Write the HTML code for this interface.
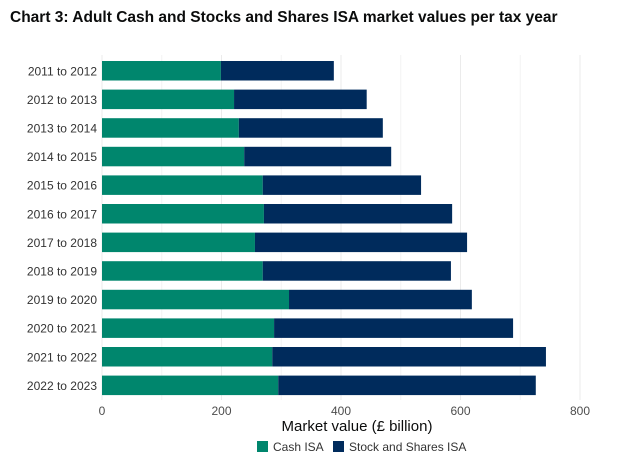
<!DOCTYPE html>
<html><head><meta charset="utf-8">
<style>
body{margin:0;background:#fff;font-family:"Liberation Sans",sans-serif;}
#wrap{position:relative;width:634px;height:471px;overflow:hidden;}
#title{position:absolute;left:10px;top:9px;font-size:15.5px;font-weight:bold;color:#0b0c0c;white-space:nowrap;}
</style></head>
<body>
<div id="wrap">
<div id="title">Chart 3: Adult Cash and Stocks and Shares ISA market values per tax year</div>
<svg id="svg" width="634" height="471" style="position:absolute;left:0;top:0"></svg>
</div>
<script>
const categories=["2011 to 2012","2012 to 2013","2013 to 2014","2014 to 2015","2015 to 2016","2016 to 2017","2017 to 2018","2018 to 2019","2019 to 2020","2020 to 2021","2021 to 2022","2022 to 2023"];
const cashISA=[199,221,229,238,269,271,256,269,313,288,285,295];
const stocksISA=[189,222,241,246,265,315,355,315,306,400,458,431];
const xTicks=[0,200,400,600,800];
const NS="http://www.w3.org/2000/svg";
const svg=document.getElementById('svg');
const x0=102,xScale=(580-102)/800;
const x=v=>x0+v*xScale;
const rowTop=61,rowStep=28.6,barH=19.5;
function mk(t,a){const e=document.createElementNS(NS,t);for(const k in a)e.setAttribute(k,a[k]);svg.appendChild(e);return e;}
// grid
for(let v=0;v<=850;v+=100){
  const g=mk('line',{x1:x(v),x2:x(v),y1:55,y2:400,stroke:v%200===0?'#ebebeb':'#f4f4f4','stroke-width':1});
  
  
}
xTicks.forEach(v=>{
  const t=mk('text',{x:x(v),y:415,'text-anchor':'middle','font-size':12,fill:'#4d4d4d'});
  
  
  t.textContent=v;
});
categories.forEach((c,i)=>{
  const y=rowTop+i*rowStep;
  const l=mk('text',{x:97,y:y+barH/2+4.5,'text-anchor':'end','font-size':12,fill:'#333'});
  
  
  l.textContent=c;
  const r1=mk('rect',{x:x(0),y:y,width:x(cashISA[i])-x(0),height:barH,fill:'#00866d'});
  
  
  const r2=mk('rect',{x:x(cashISA[i]),y:y,width:x(cashISA[i]+stocksISA[i])-x(cashISA[i]),height:barH,fill:'#002b5c'});
  
  
});
const at=mk('text',{x:357,y:431,'text-anchor':'middle','font-size':15,fill:'#0b0c0c'});


at.textContent='Market value (£ billion)';
const legend=[["Cash ISA","#00866d",257],["Stock and Shares ISA","#002b5c",333]];
legend.forEach(([n,c,lx])=>{
  const s=mk('rect',{x:lx,y:441,width:11,height:11,fill:c});
  
  
  const t=mk('text',{x:lx+16,y:451,'font-size':12,fill:'#333'});
  
  
  t.textContent=n;
});
</script>
</body></html>
